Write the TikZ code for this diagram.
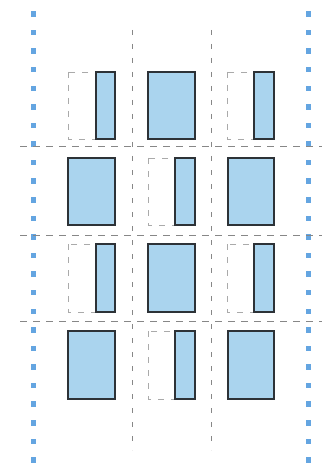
\documentclass[tikz,border=0pt]{standalone}
\begin{document}
\begin{tikzpicture}[x=1pt,y=-1pt,
  bluedot/.style={fill=dotblue,draw=none},
  solidbox/.style={draw=boxline,line width=1.4pt,fill=boxfill},
  ghostbox/.style={draw=ghost,line width=0.7pt,dash pattern=on 6pt off 7pt},
  hline/.style={draw=gridgray,line width=1pt,dash pattern=on 7pt off 6pt},
  vline/.style={draw=gridgray,line width=1pt,dash pattern=on 5pt off 9pt}]
\definecolor{dotblue}{RGB}{100,165,225}
\definecolor{boxfill}{RGB}{170,212,238}
\definecolor{boxline}{RGB}{45,50,55}
\definecolor{ghost}{RGB}{170,170,170}
\definecolor{gridgray}{RGB}{135,135,135}
\useasboundingbox (0,0) rectangle (322,473);
\fill[white] (0,0) rectangle (322,473);
% blue dotted borders
\foreach \i in {0,...,24}{
  \fill[bluedot] (30.5,{14+18.58*\i-2.75}) rectangle ++(5.5,5.5);
  \fill[bluedot] (305.5,{14+18.58*\i-2.75}) rectangle ++(5.5,5.5);
}
% vertical dashed lines
\draw[vline] (132,30) -- (132,450);
\draw[vline] (211,30) -- (211,450);
% horizontal dashed lines
\draw[hline] (20,147) -- (322,147);
\draw[hline] (20,235) -- (322,235);
\draw[hline] (20,321) -- (322,321);
% row 1
\draw[ghostbox] (68,72) rectangle (115,139);
\draw[solidbox] (96,72) rectangle (115,139);
\draw[solidbox] (148,72) rectangle (195,139);
\draw[ghostbox] (227,72) rectangle (274,139);
\draw[solidbox] (254,72) rectangle (274,139);
% row 2
\draw[solidbox] (68,158) rectangle (115,225);
\draw[ghostbox] (148,158) rectangle (195,225);
\draw[solidbox] (175,158) rectangle (195,225);
\draw[solidbox] (228,158) rectangle (274,225);
% row 3
\draw[ghostbox] (68,244) rectangle (115,312);
\draw[solidbox] (96,244) rectangle (115,312);
\draw[solidbox] (148,244) rectangle (195,312);
\draw[ghostbox] (227,244) rectangle (274,312);
\draw[solidbox] (254,244) rectangle (274,312);
% row 4
\draw[solidbox] (68,331) rectangle (115,399);
\draw[ghostbox] (148,331) rectangle (195,399);
\draw[solidbox] (175,331) rectangle (195,399);
\draw[solidbox] (228,331) rectangle (274,399);
\end{tikzpicture}
\end{document}
